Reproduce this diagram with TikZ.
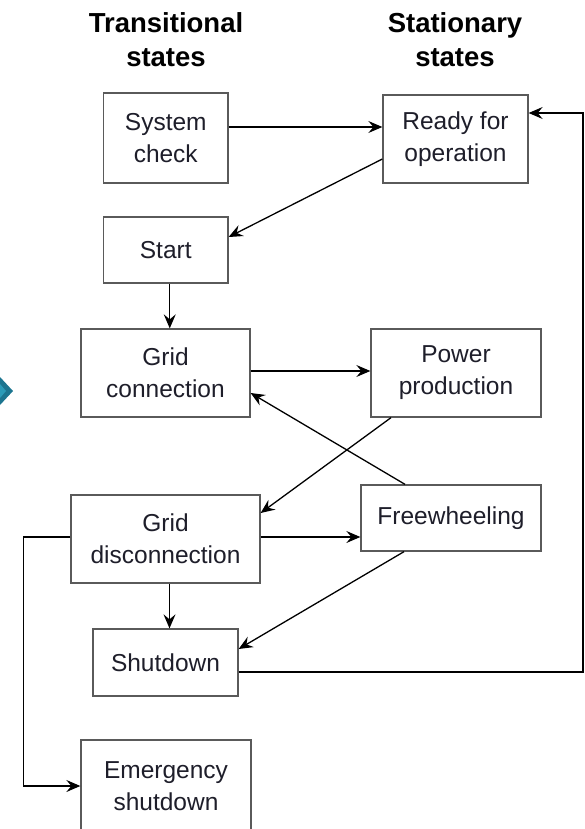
\documentclass[tikz,border=0pt]{standalone}
\usepackage{fontspec}
\setmainfont{Liberation Sans}
\usetikzlibrary{arrows.meta,calc}
\definecolor{boxline}{HTML}{5A5A5A}
\definecolor{txt}{HTML}{1E1E2A}
\definecolor{tealdark}{HTML}{1C7590}
\definecolor{teallight}{HTML}{2B9BB8}
\begin{document}
\begin{tikzpicture}[x=1pt,y=-1pt,
  statebox/.style={draw=boxline,line width=1.3pt,fill=white,rectangle,inner sep=0pt,
    align=center,text=txt,font=\fontsize{24.5}{32}\selectfont},
  header/.style={align=center,font=\fontsize{27.5}{34}\selectfont\bfseries},
  conn/.style={draw=black,line width=1.3pt,-{Stealth[length=14pt,width=12pt,inset=5pt]}}]
\useasboundingbox (0,0) rectangle (584,829);
% teal marker at left edge
\fill[tealdark] (0,377) -- (13,391) -- (0,405) -- cycle;
\fill[teallight] (0,384) -- (6,391) -- (0,398) -- cycle;
% headers
\node[header] (htr) at (166,40) {Transitional\\states};
\node[header] (hst) at (455,40) {Stationary\\states};
% boxes
\node[statebox,minimum width=124.5pt,minimum height=90pt] (sc) at (165.75,138) {System\\check};
\node[statebox,minimum width=145pt,minimum height=88pt] (ready) at (455.5,139) {Ready for\\operation};
\node[statebox,minimum width=124.5pt,minimum height=66pt] (start) at (165.75,250) {Start};
\node[statebox,minimum width=169pt,minimum height=88pt] (gc) at (165.5,373) {Grid\\connection};
\node[statebox,minimum width=170pt,minimum height=88pt] (pp) at (456,373) {Power\\production};
\node[statebox,minimum width=189pt,minimum height=88pt] (gd) at (165.5,539) {Grid\\disconnection};
\node[statebox,minimum width=180pt,minimum height=66pt] (fw) at (451,518) {Freewheeling};
\node[statebox,minimum width=145pt,minimum height=67pt] (sd) at (165.5,662.5) {Shutdown};
\node[statebox,minimum width=170pt,minimum height=92pt] (em) at (166,786) {Emergency\\shutdown};
\coordinate (rt) at (583,113);
% connectors
\draw[conn] ([yshift=11pt]sc.east) -- ([yshift=11pt]sc.east -| ready.west);
\draw[conn] ([yshift=-20pt]ready.west) -- ([yshift=13pt]start.east);
\draw[conn] ([xshift=4pt]start.south) -- ([xshift=4pt]start.south |- gc.north);
\draw[conn] ([yshift=2pt]gc.east) -- ([yshift=2pt]gc.east -| pp.west);
\draw[conn] ([xshift=-65pt]pp.south) -- ([yshift=26pt]gd.east);
\draw[conn] ([xshift=-46pt]fw.north) -- ([yshift=-20pt]gc.east);
\draw[conn] ([yshift=2pt]gd.east) -- ([yshift=2pt]gd.east -| fw.west);
\draw[conn] ([xshift=4pt]gd.south) -- ([xshift=4pt]gd.south |- sd.north);
\draw[conn] ([xshift=-47pt]fw.south) -- ([yshift=13.5pt]sd.east);
\draw[conn] ([yshift=-9.5pt]sd.east) -| (rt) -- (rt -| ready.east);
\draw[conn] ([yshift=2pt]gd.west) -- ++(-47pt,0) |- (em.west);
\end{tikzpicture}
\end{document}
